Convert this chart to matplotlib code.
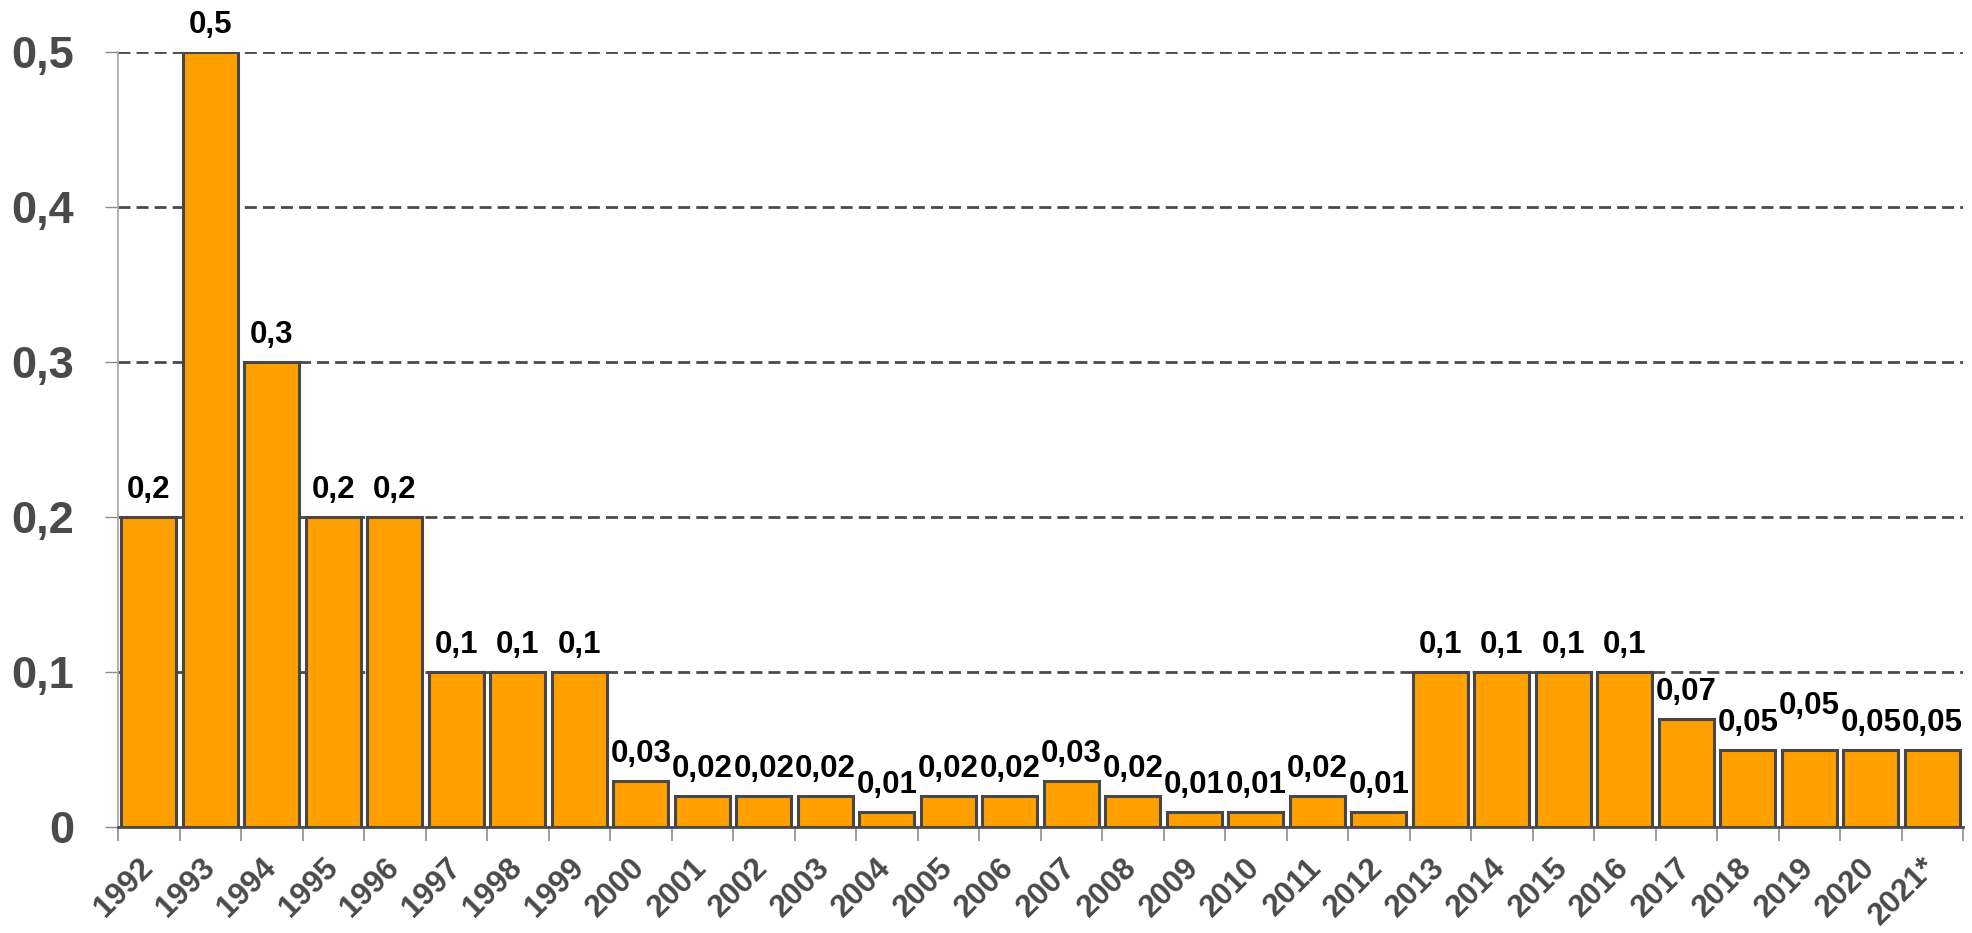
import numpy as np
import matplotlib
matplotlib.use('Agg')
from matplotlib import pyplot as plt
from matplotlib.ticker import FuncFormatter, FixedLocator

plt.rcParams['font.family'] = ['Liberation Sans', 'DejaVu Sans']
plt.rcParams['font.weight'] = 'bold'

# данные
years = ['1992', '1993', '1994', '1995', '1996', '1997', '1998', '1999', '2000', '2001',
         '2002', '2003', '2004', '2005', '2006', '2007', '2008', '2009', '2010', '2011',
         '2012', '2013', '2014', '2015', '2016', '2017', '2018', '2019', '2020', '2021*']
values = [0.2, 0.5, 0.3, 0.2, 0.2, 0.1, 0.1, 0.1, 0.03, 0.02,
          0.02, 0.02, 0.01, 0.02, 0.02, 0.03, 0.02, 0.01, 0.01, 0.02,
          0.01, 0.1, 0.1, 0.1, 0.1, 0.07, 0.05, 0.05, 0.05, 0.05]
labels = ['0,2', '0,5', '0,3', '0,2', '0,2', '0,1', '0,1', '0,1', '0,03', '0,02',
          '0,02', '0,02', '0,01', '0,02', '0,02', '0,03', '0,02', '0,01', '0,01', '0,02',
          '0,01', '0,1', '0,1', '0,1', '0,1', '0,07', '0,05', '0,05', '0,05', '0,05']

fig = plt.figure(figsize=(19.72, 9.33), dpi=100)
ax = fig.add_axes([118/1972, 1-827/933, (1963-118)/1972, (827-52)/933])

x = np.arange(len(years))
ax.bar(x, values, width=0.9, color='#FF9F00', edgecolor='#474747', linewidth=2.2, zorder=3)

# подписи над столбцами (2019 у Excel сдвинута выше)
for i, (v, s) in enumerate(zip(values, labels)):
    extra = 12 if years[i] == '2019' else 0
    ax.annotate(s, (i, v), xytext=(0, 13.5 + extra), textcoords='offset points',
                ha='center', va='baseline', fontsize=22.5, fontweight='bold', color='black')

ax.set_xlim(-0.5, len(years) - 0.5)
ax.set_ylim(0, 0.5)
ax.set_yticks([0, 0.1, 0.2, 0.3, 0.4, 0.5])
ax.yaxis.set_major_formatter(FuncFormatter(lambda v, p: '0' if v == 0 else ('%.1f' % v).replace('.', ',')))
ax.tick_params(axis='y', length=9.5, width=1, color='#8c8c8c', pad=22,
               labelsize=32.5, labelcolor='#4a4a4a')

# сетка пунктиром
for yv in [0.1, 0.2, 0.3, 0.4, 0.5]:
    ax.axhline(yv, color='#4a4a4a', lw=2, ls=(0, (4.3, 2.2)), zorder=1)

ax.set_xticks(x)
ax.set_xticklabels(years, rotation=45, ha='right', va='center', rotation_mode='anchor')
ax.tick_params(axis='x', which='major', length=0, pad=26, labelsize=22.5, labelcolor='#4a4a4a')
ax.xaxis.set_minor_locator(FixedLocator(np.arange(len(years) + 1) - 0.5))
ax.tick_params(axis='x', which='minor', length=10, width=1.2, color='#8c8c8c')

for s in ['top', 'right']:
    ax.spines[s].set_visible(False)
ax.spines['left'].set_color('#a6a6a6')
ax.spines['left'].set_linewidth(1.2)
ax.spines['bottom'].set_color('#4a4a4a')
ax.spines['bottom'].set_linewidth(2)
ax.spines['bottom'].set_zorder(4)

fig.savefig('out.png', dpi=100)
